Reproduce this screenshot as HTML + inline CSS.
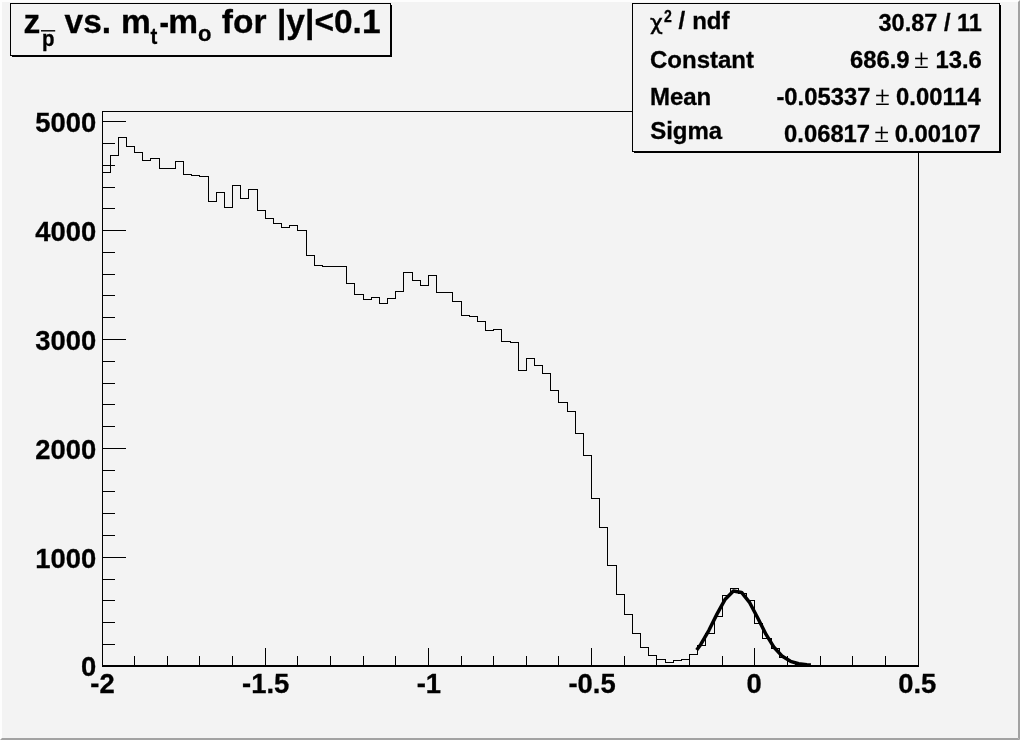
<!DOCTYPE html>
<html><head><meta charset="utf-8"><title>z pbar vs. mt-mo for |y|&lt;0.1</title>
<style>
html,body{margin:0;padding:0;background:#f3f3f3;overflow:hidden}
svg{display:block;will-change:transform;filter:grayscale(1)}
text{font-family:"Liberation Sans",sans-serif;font-weight:bold;fill:#000;stroke:#000;stroke-width:0.3px}
.sym{font-family:"Liberation Serif","DejaVu Serif",serif;font-weight:normal;stroke-width:0.15px}
</style></head><body>
<svg width="1020" height="740" viewBox="0 0 1020 740">
<rect x="0" y="0" width="1020" height="740" fill="#f3f3f3"/>
<!-- canvas bevel -->
<rect x="0" y="0" width="1020" height="2" fill="#fdfdfd"/>
<rect x="0" y="0" width="2" height="740" fill="#fdfdfd"/>
<path d="M0 740 L2 738 H1018 L1020 740 Z" fill="#a2a2a2"/>
<path d="M1020 0 L1018 2 V738 L1020 740 Z" fill="#a2a2a2"/>

<!-- frame -->
<g shape-rendering="crispEdges" fill="#000">
<rect x="102" y="111" width="817" height="1"/>
<rect x="102" y="111" width="1" height="556"/>
<rect x="918" y="111" width="1" height="556"/>
<rect x="102" y="665" width="817" height="2"/>
<rect x="102" y="644" width="13" height="1"/>
<rect x="102" y="622" width="13" height="1"/>
<rect x="102" y="600" width="13" height="1"/>
<rect x="102" y="579" width="13" height="1"/>
<rect x="102" y="557" width="24" height="1"/>
<rect x="102" y="535" width="13" height="1"/>
<rect x="102" y="513" width="13" height="1"/>
<rect x="102" y="491" width="13" height="1"/>
<rect x="102" y="470" width="13" height="1"/>
<rect x="102" y="448" width="24" height="1"/>
<rect x="102" y="426" width="13" height="1"/>
<rect x="102" y="404" width="13" height="1"/>
<rect x="102" y="383" width="13" height="1"/>
<rect x="102" y="361" width="13" height="1"/>
<rect x="102" y="339" width="24" height="1"/>
<rect x="102" y="317" width="13" height="1"/>
<rect x="102" y="295" width="13" height="1"/>
<rect x="102" y="274" width="13" height="1"/>
<rect x="102" y="252" width="13" height="1"/>
<rect x="102" y="230" width="24" height="1"/>
<rect x="102" y="208" width="13" height="1"/>
<rect x="102" y="187" width="13" height="1"/>
<rect x="102" y="165" width="13" height="1"/>
<rect x="102" y="143" width="13" height="1"/>
<rect x="102" y="121" width="24" height="1"/>
<rect x="102" y="648" width="1" height="17"/>
<rect x="134" y="656" width="1" height="9"/>
<rect x="167" y="656" width="1" height="9"/>
<rect x="199" y="656" width="1" height="9"/>
<rect x="232" y="656" width="1" height="9"/>
<rect x="265" y="648" width="1" height="17"/>
<rect x="297" y="656" width="1" height="9"/>
<rect x="330" y="656" width="1" height="9"/>
<rect x="363" y="656" width="1" height="9"/>
<rect x="395" y="656" width="1" height="9"/>
<rect x="428" y="648" width="1" height="17"/>
<rect x="461" y="656" width="1" height="9"/>
<rect x="493" y="656" width="1" height="9"/>
<rect x="526" y="656" width="1" height="9"/>
<rect x="558" y="656" width="1" height="9"/>
<rect x="591" y="648" width="1" height="17"/>
<rect x="624" y="656" width="1" height="9"/>
<rect x="656" y="656" width="1" height="9"/>
<rect x="689" y="656" width="1" height="9"/>
<rect x="722" y="656" width="1" height="9"/>
<rect x="754" y="648" width="1" height="17"/>
<rect x="787" y="656" width="1" height="9"/>
<rect x="820" y="656" width="1" height="9"/>
<rect x="852" y="656" width="1" height="9"/>
<rect x="885" y="656" width="1" height="9"/>
<rect x="918" y="648" width="1" height="17"/>
</g>
<path d="M102.5 665.5 V172.5 H110.5 V155.5 H118.5 V137.5 H126.5 V146.5 H134.5 V152.5 H142.5 V160.5 H150.5 V158.5 H159.5 V168.5 H167.5 V168.5 H175.5 V161.5 H183.5 V174.5 H191.5 V175.5 H199.5 V176.5 H208.5 V201.5 H216.5 V192.5 H224.5 V207.5 H232.5 V185.5 H240.5 V198.5 H248.5 V189.5 H257.5 V210.5 H265.5 V218.5 H273.5 V223.5 H281.5 V227.5 H289.5 V225.5 H297.5 V230.5 H306.5 V255.5 H314.5 V265.5 H322.5 V266.5 H330.5 V266.5 H338.5 V266.5 H346.5 V283.5 H354.5 V294.5 H363.5 V299.5 H371.5 V297.5 H379.5 V303.5 H387.5 V298.5 H395.5 V291.5 H403.5 V272.5 H412.5 V280.5 H420.5 V285.5 H428.5 V275.5 H436.5 V292.5 H444.5 V292.5 H452.5 V301.5 H461.5 V315.5 H469.5 V316.5 H477.5 V321.5 H485.5 V330.5 H493.5 V329.5 H501.5 V341.5 H510.5 V342.5 H518.5 V370.5 H526.5 V358.5 H534.5 V365.5 H542.5 V373.5 H550.5 V390.5 H558.5 V402.5 H567.5 V411.5 H575.5 V433.5 H583.5 V455.5 H591.5 V498.5 H599.5 V527.5 H607.5 V565.5 H616.5 V594.5 H624.5 V614.5 H632.5 V633.5 H640.5 V647.5 H648.5 V655.5 H656.5 V659.5 H665.5 V662.5 H673.5 V660.5 H681.5 V659.5 H689.5 V654.5 H697.5 V645.5 H705.5 V633.5 H714.5 V616.5 H722.5 V595.5 H730.5 V588.5 H738.5 V593.5 H746.5 V600.5 H754.5 V623.5 H762.5 V638.5 H771.5 V648.5 H779.5 V657.5 H787.5 V661.5 H795.5 V664.5 H803.5 V665.5 H811.5 V665.5 H820.5 V665.5 H828.5 V665.5 H836.5 V665.5 H844.5 V665.5 H852.5 V665.5 H860.5 V665.5 H869.5 V665.5 H877.5 V665.5 H885.5 V665.5 H893.5 V665.5 H901.5 V665.5 H909.5 V665.5 H918.5 V665.5" fill="none" stroke="#000" stroke-width="1" shape-rendering="crispEdges"/>
<clipPath id="fc"><rect x="102" y="111" width="817" height="556"/></clipPath><polyline clip-path="url(#fc)" points="696.68,649.97 700.76,644.43 708.92,630.27 717.08,613.85 725.24,599.21 733.40,591.06 741.56,592.40 749.72,602.70 757.88,618.30 766.04,634.43 774.20,647.56 782.36,656.36 790.52,661.32 798.68,663.72 806.84,664.70 810.92,664.93" fill="none" stroke="#000" stroke-width="3.5" stroke-linejoin="round"/>
<text x="96.3" y="676.4" text-anchor="end" font-size="27.4">0</text>
<text x="96.3" y="567.5" text-anchor="end" font-size="27.4">1000</text>
<text x="96.3" y="458.6" text-anchor="end" font-size="27.4">2000</text>
<text x="96.3" y="349.7" text-anchor="end" font-size="27.4">3000</text>
<text x="96.3" y="240.8" text-anchor="end" font-size="27.4">4000</text>
<text x="96.3" y="131.9" text-anchor="end" font-size="27.4">5000</text>
<text x="102.5" y="692.8" text-anchor="middle" font-size="27.4">-2</text>
<text x="265.7" y="692.8" text-anchor="middle" font-size="27.4">-1.5</text>
<text x="428.9" y="692.8" text-anchor="middle" font-size="27.4">-1</text>
<text x="592.1" y="692.8" text-anchor="middle" font-size="27.4">-0.5</text>
<text x="754.0" y="692.8" text-anchor="middle" font-size="27.4">0</text>
<text x="917.3" y="692.8" text-anchor="middle" font-size="27.4">0.5</text>
<!-- title box -->
<g shape-rendering="crispEdges">
<rect x="12" y="55" width="380" height="2" fill="#000"/>
<rect x="390" y="5" width="2" height="52" fill="#000"/>
<rect x="10.5" y="3.5" width="380" height="52" fill="#f3f3f3" stroke="#000" stroke-width="1"/>
</g>
<g font-size="33.5">
<text x="23.5" y="32.7">z</text>
<text transform="translate(41.9,45.8) scale(0.93,1)" font-size="22">p</text>
<rect x="41" y="30.1" width="14.2" height="1.4" fill="#000"/>
<text x="64.6" y="32.7">vs.</text>
<text x="120.9" y="32.7">m</text>
<text transform="translate(150.6,44) scale(0.93,1)" font-size="22">t</text>
<text transform="translate(159.6,33.9) scale(0.85,1)">-</text>
<text x="168.2" y="32.7">m</text>
<text x="198" y="40.6" font-size="22">o</text>
<text x="221.8" y="32.7">for</text>
<text x="277" y="32.7">|y|&lt;0.1</text>
</g>

<!-- stats box -->
<g shape-rendering="crispEdges">
<rect x="634" y="151" width="367" height="2" fill="#000"/>
<rect x="999" y="5" width="2" height="148" fill="#000"/>
<rect x="632.5" y="3.5" width="367" height="148" fill="#f3f3f3" stroke="#000" stroke-width="1"/>
</g>
<g font-size="24">
<text x="650" y="29.6" font-size="22" style="font-family:'DejaVu Sans',sans-serif;font-weight:normal;stroke-width:0.5px">&#967;</text>
<text transform="translate(663.9,22) scale(0.88,1)" font-size="16">2</text>
<text x="678.6" y="28.6">/</text>
<text x="692.2" y="28.6">ndf</text>
<text x="650.0" y="67.8">Constant</text>
<text x="649.9" y="104.7">Mean</text>
<text x="650.2" y="139.3">Sigma</text>
</g>
<g font-size="23.8">
<text x="981.8" y="30.9" text-anchor="end" font-size="23.5">30.87 / 11</text>
<text x="981.8" y="67.8" text-anchor="end">13.6</text>
<text x="921.5" y="67.8" text-anchor="middle" class="sym" font-size="27">&#177;</text>
<text x="909.6" y="67.8" text-anchor="end">686.9</text>
<text x="980.8" y="105" text-anchor="end">0.00114</text>
<text x="882.3" y="105" text-anchor="middle" class="sym" font-size="27">&#177;</text>
<text x="870.4" y="105" text-anchor="end">-0.05337</text>
<text x="980.8" y="141.9" text-anchor="end">0.00107</text>
<text x="881.6" y="141.9" text-anchor="middle" class="sym" font-size="27">&#177;</text>
<text x="870.1" y="141.9" text-anchor="end">0.06817</text>
</g>

</svg>
</body></html>
